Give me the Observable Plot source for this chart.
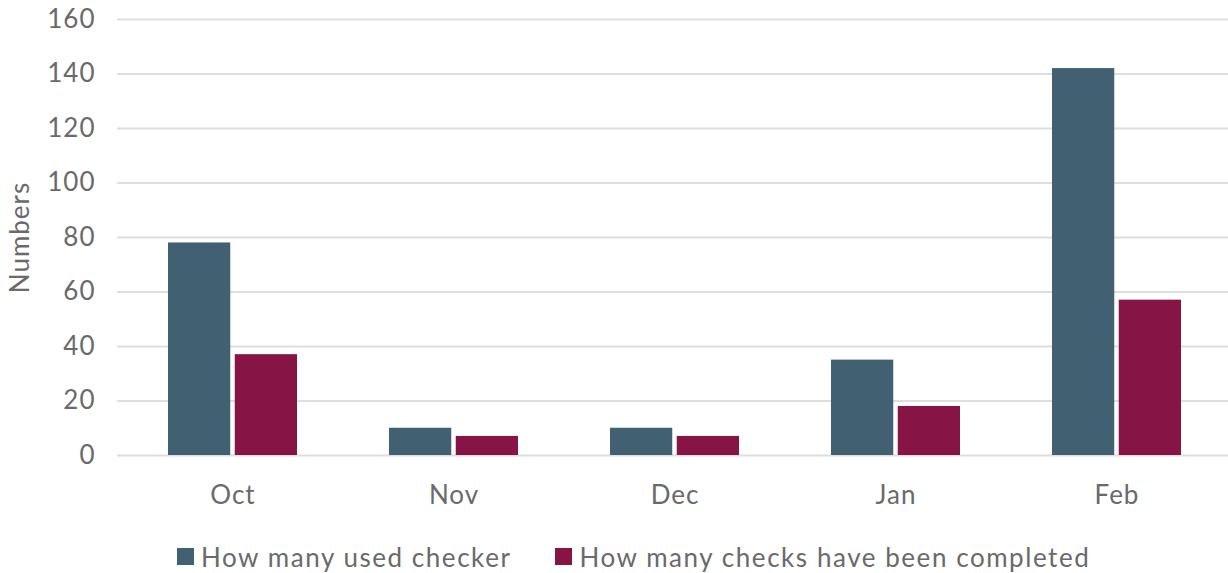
<!DOCTYPE html>
<html>
<head>
<meta charset="utf-8">
<script src="https://cdn.jsdelivr.net/npm/d3@7"></script>
<script src="https://cdn.jsdelivr.net/npm/@observablehq/plot@0.6"></script>
<style>
  body { margin: 0; background: #fff; font-family: Lato, "Open Sans", sans-serif; }
  #legend { display: flex; align-items: center; height: 73px; padding-left: 177px; font-size: 26px; letter-spacing: 1.55px; color: #6a6a6a; }
  .item { display: flex; align-items: center; margin-right: 44px; }
  .sw { width: 17px; height: 17px; margin-right: 7px; }
</style>
</head>
<body>
<div id="chart"></div>
<div id="legend"></div>
<script>
const months = ["Oct", "Nov", "Dec", "Jan", "Feb"];
const usedChecker = [78, 10, 10, 35, 142];
const checksCompleted = [37, 7, 7, 18, 57];
const seriesNames = ["How many used checker", "How many checks have been completed"];
const seriesColors = ["#416173", "#861445"];
const yTicks = [0, 20, 40, 60, 80, 100, 120, 140, 160];

const data = months.map((m, i) => ({month: m, used: usedChecker[i], completed: checksCompleted[i]}));

const chart = Plot.plot({
  width: 1228,
  height: 520,
  marginLeft: 117,
  marginRight: 0,
  marginTop: 19,
  marginBottom: 65,
  style: {fontFamily: "Lato, 'Open Sans', sans-serif", fontSize: "26px", letterSpacing: "1px", color: "#6a6a6a", background: "#fff"},
  x: {domain: months, range: [121, 1228], paddingInner: 0.415, paddingOuter: 0.2075, label: null},
  y: {domain: [0, 160], label: null},
  marks: [
    Plot.gridY(yTicks, {stroke: "#dedede", strokeOpacity: 1, strokeWidth: 2}),
    Plot.barY(data, {x: "month", y: "used", fill: seriesColors[0], insetRight: 66.75}),
    Plot.barY(data, {x: "month", y: "completed", fill: seriesColors[1], insetLeft: 66.75}),
    Plot.axisY(yTicks, {tickSize: 0, tickPadding: 22, label: null}),
    Plot.axisX({tickSize: 0, tickPadding: 30, label: null}),
    Plot.text(["Numbers"], {frameAnchor: "left", textAnchor: "middle", dx: -97, rotate: -90, fill: "#6a6a6a", fontSize: 26})
  ]
});
document.getElementById("chart").append(chart);

const legend = document.getElementById("legend");
seriesNames.forEach((name, i) => {
  const item = document.createElement("div");
  item.className = "item";
  const sw = document.createElement("div");
  sw.className = "sw";
  sw.style.background = seriesColors[i];
  const label = document.createElement("span");
  label.textContent = name;
  item.append(sw, label);
  legend.append(item);
});
</script>
</body>
</html>
